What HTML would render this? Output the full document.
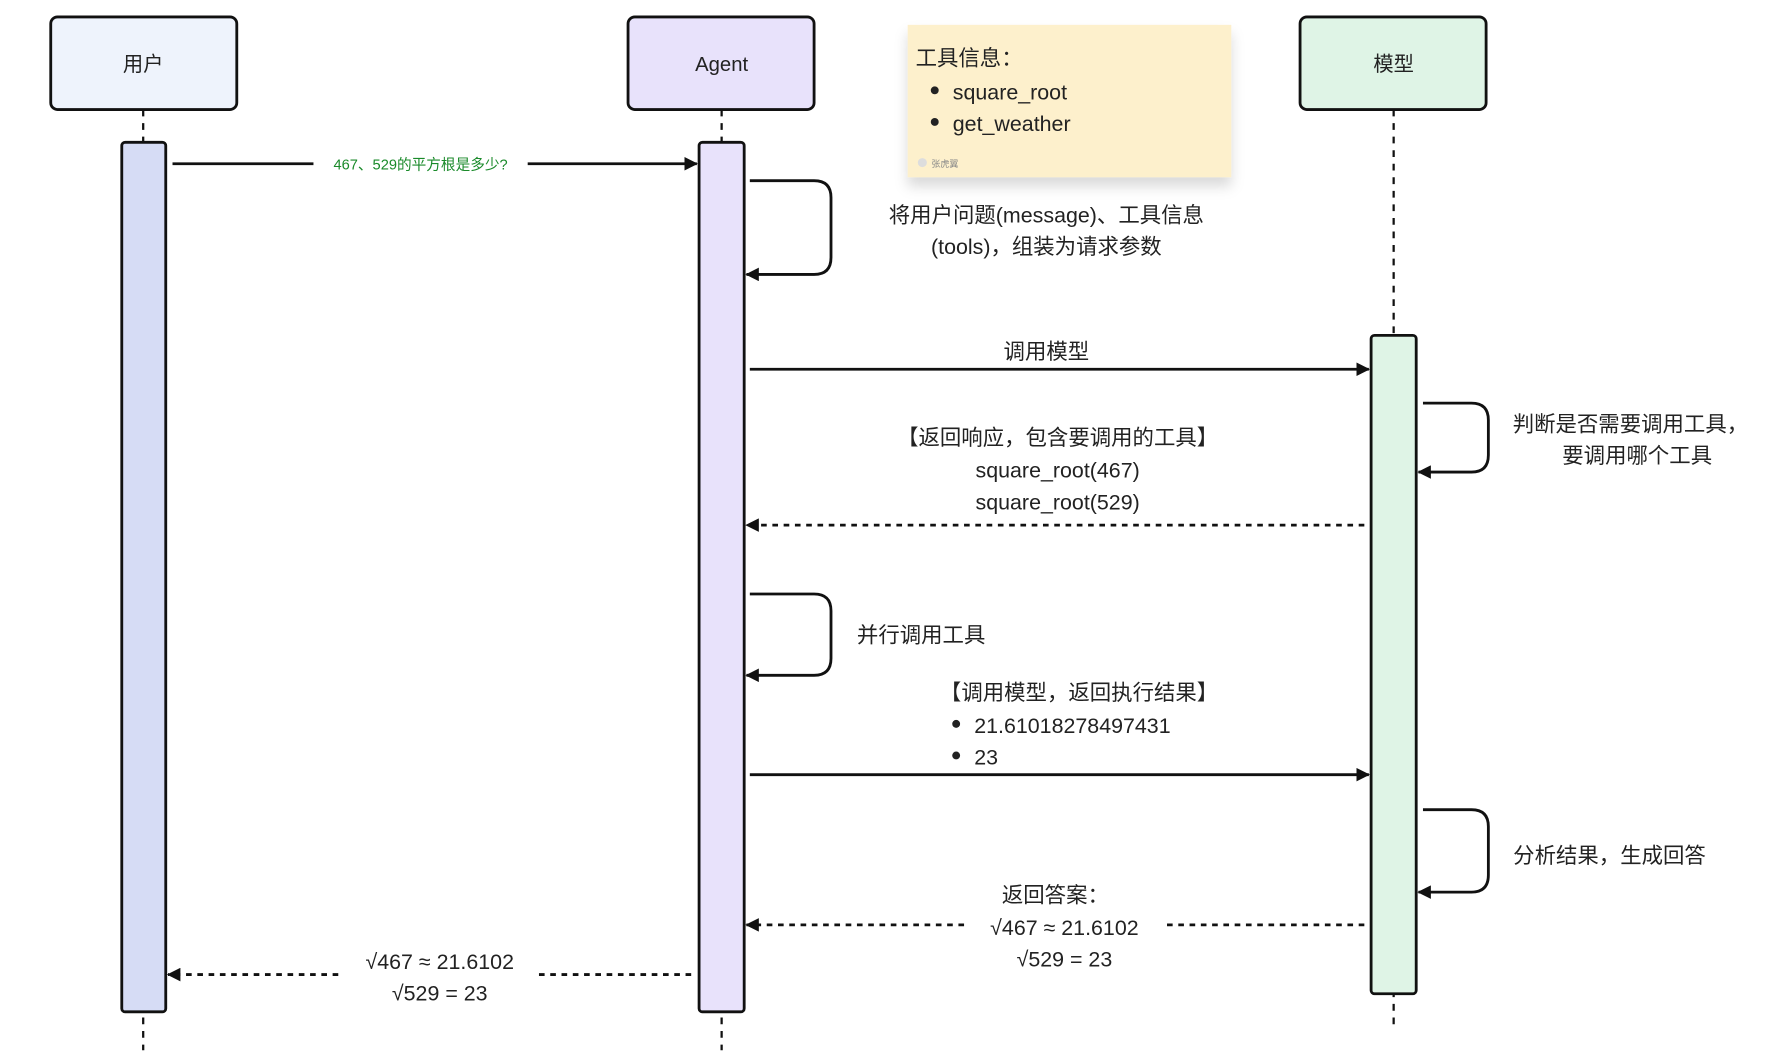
<!DOCTYPE html>
<html><head><meta charset="utf-8"><style>
html,body{margin:0;padding:0;background:#fff;}
svg{display:block}
text{font-family:"Liberation Sans","Noto Sans CJK SC",sans-serif;fill:#222;}
</style></head><body>
<svg width="1768" height="1057" viewBox="0 0 1568 936" preserveAspectRatio="none" xmlns="http://www.w3.org/2000/svg">
<defs>
<marker id="ah" markerWidth="12" markerHeight="12" refX="11" refY="6" orient="auto" markerUnits="userSpaceOnUse">
<path d="M0,0 L12,6 L0,12 z" fill="#111"/></marker>
<filter id="sh" x="-10%" y="-10%" width="120%" height="140%"><feDropShadow dx="0" dy="8" stdDeviation="6" flood-color="#000" flood-opacity="0.15"/></filter>
</defs>
<g stroke="#111" stroke-width="2" stroke-dasharray="6,6">
<line x1="127" y1="97" x2="127" y2="930"/>
<line x1="640" y1="97" x2="640" y2="930"/>
<line x1="1236" y1="97" x2="1236" y2="910"/>
</g>
<rect x="45" y="15" width="165" height="82" rx="6" fill="#eef3fc" stroke="#111" stroke-width="2.5"/>
<text x="127" y="63" font-size="18" text-anchor="middle">用户</text>
<rect x="557" y="15" width="165" height="82" rx="6" fill="#e8e2fb" stroke="#111" stroke-width="2.5"/>
<text x="640" y="63" font-size="18" text-anchor="middle">Agent</text>
<rect x="1153" y="15" width="165" height="82" rx="6" fill="#dff4e6" stroke="#111" stroke-width="2.5"/>
<text x="1236" y="63" font-size="18" text-anchor="middle">模型</text>
<rect x="805" y="22" width="287" height="135" fill="#fdf0cc" filter="url(#sh)"/>
<text x="812" y="58" font-size="19">工具信息：</text>
<circle cx="829" cy="80" r="3.5" fill="#222"/><text x="845" y="88" font-size="19">square_root</text>
<circle cx="829" cy="108" r="3.5" fill="#222"/><text x="845" y="116" font-size="19">get_weather</text>
<circle cx="818" cy="144" r="4" fill="#ddd"/><text x="826" y="148" font-size="8" style="fill:#888">张虎翼</text>
<rect x="108" y="126" width="39" height="770" rx="3" fill="#d6dcf5" stroke="#111" stroke-width="2.5"/>
<rect x="620" y="126" width="40" height="770" rx="3" fill="#e8e2fb" stroke="#111" stroke-width="2.5"/>
<rect x="1216" y="297" width="40" height="583" rx="3" fill="#dff4e6" stroke="#111" stroke-width="2.5"/>
<g fill="none" stroke="#111" stroke-width="2.5">
<line x1="153" y1="145" x2="278" y2="145"/>
<line x1="468" y1="145" x2="618" y2="145" marker-end="url(#ah)"/>
<path d="M665,160 H722 Q737,160 737,175 V228 Q737,243 722,243 H662" marker-end="url(#ah)"/>
<line x1="665" y1="327" x2="1214" y2="327" marker-end="url(#ah)"/>
<path d="M1262,357 H1305 Q1320,357 1320,372 V403 Q1320,418 1305,418 H1258" marker-end="url(#ah)"/>
<line x1="1210" y1="465" x2="662" y2="465" stroke-dasharray="5,5" marker-end="url(#ah)"/>
<path d="M665,526 H722 Q737,526 737,541 V583 Q737,598 722,598 H662" marker-end="url(#ah)"/>
<line x1="665" y1="686" x2="1214" y2="686" marker-end="url(#ah)"/>
<path d="M1262,717 H1305 Q1320,717 1320,732 V775 Q1320,790 1305,790 H1258" marker-end="url(#ah)"/>
<line x1="1210" y1="819" x2="1030" y2="819" stroke-dasharray="5,5"/>
<line x1="855" y1="819" x2="662" y2="819" stroke-dasharray="5,5" marker-end="url(#ah)"/>
<line x1="613" y1="863" x2="475" y2="863" stroke-dasharray="5,5"/>
<line x1="300" y1="863" x2="149" y2="863" stroke-dasharray="5,5" marker-end="url(#ah)"/>
</g>
<text x="373" y="150" font-size="13" text-anchor="middle" style="fill:#1a8a2a">467、529的平方根是多少?</text>
<g font-size="19" text-anchor="middle">
<text x="928" y="197">将用户问题(message)、工具信息</text>
<text x="928" y="225">(tools)，组装为请求参数</text>
<text x="928" y="318">调用模型</text>
<text x="1446" y="382">判断是否需要调用工具，</text>
<text x="1452" y="410">要调用哪个工具</text>
<text x="938" y="394">【返回响应，包含要调用的工具】</text>
<text x="938" y="423">square_root(467)</text>
<text x="938" y="451">square_root(529)</text>
<text x="957" y="620">【调用模型，返回执行结果】</text>
<text x="936" y="799">返回答案：</text>
<text x="944" y="828">√467 ≈ 21.6102</text>
<text x="944" y="856">√529 = 23</text>
<text x="390" y="858">√467 ≈ 21.6102</text>
<text x="390" y="886">√529 = 23</text>
</g>
<g font-size="19">
<text x="760" y="569">并行调用工具</text>
<circle cx="848" cy="641" r="3.5" fill="#222"/><text x="864" y="649">21.61018278497431</text>
<circle cx="848" cy="669" r="3.5" fill="#222"/><text x="864" y="677">23</text>
<text x="1342" y="764">分析结果，生成回答</text>
</g>
</svg>
</body></html>
